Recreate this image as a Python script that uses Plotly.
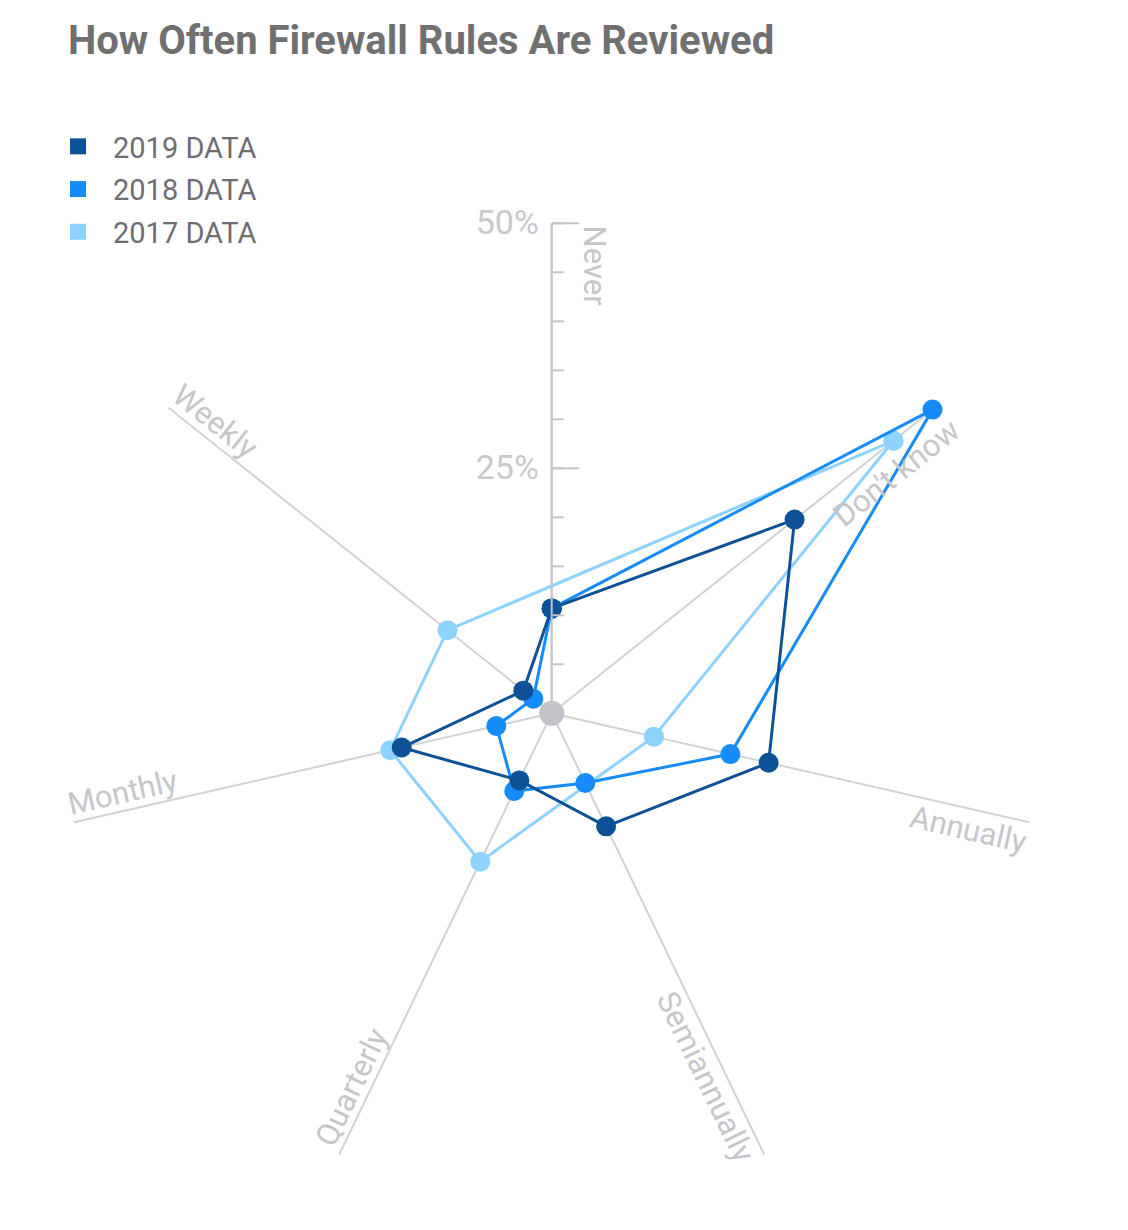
import math
import plotly.graph_objects as go

# categories, clockwise from the top
categories = ["Never", "Don't know", "Annually", "Semiannually", "Quarterly", "Monthly", "Weekly"]

# percent of respondents (None = category not in that year's survey)
data_2019 = [10.7, 31.7, 22.7, 12.8, 7.6, 15.7, 3.7]
data_2018 = [10.7, 49.7, 18.7, 7.9, 8.8, 5.8, 2.4]
data_2017 = [None, 44.6, 10.7, None, 16.8, 16.9, 13.6]

radial_ticks = [0, 5, 10, 15, 20, 25, 30, 35, 40, 45, 50]
radial_labels = ["", "", "", "", "", "25%", "", "", "", "", "50%"]

series = [
    ("2019 DATA", data_2019, "#0D5296"),
    ("2018 DATA", data_2018, "#168BFA"),
    ("2017 DATA", data_2017, "#8DD3FD"),
]

W, H = 1128, 1230
OFF = 8  # page margin the browser adds around the plot div
CX, CY, RPX = 551.7 - OFF, 713.3 - OFF, 490  # polar centre and radius in pixels
FONT = "Roboto"
GRID = "#d2d2d6"
LABEL_GREY = "#c6c6ca"

# (distance along spoke, offset above text baseline) in pixels, per category label
label_place = [(447, 43), (420, -27), (432, -21), (395, -19), (424, 18), (436, 18), (445, 18)]


def closed(cats, vals):
    pts = [(c, v) for c, v in zip(cats, vals) if v is not None]
    pts.append(pts[0])
    return [p[0] for p in pts], [p[1] for p in pts]


fig = go.Figure()

# lines, oldest year underneath
for name, vals, color in reversed(series):
    th, r = closed(categories, vals)
    fig.add_trace(go.Scatterpolar(
        r=r, theta=th, mode="lines+markers", name=name, showlegend=False,
        line=dict(color=color, width=3),
        marker=dict(color=color, size=20),
        subplot="polar"))

# legend swatches
for i, (name, vals, color) in enumerate(series):
    fig.add_trace(go.Scatterpolar(
        r=[None], theta=[None], mode="markers", name=name, legendgroup=f"g{i}",
        marker=dict(color=color, size=20, symbol="square"),
        subplot="polar"))

# grey hub
fig.add_trace(go.Scatterpolar(
    r=[0], theta=[0], mode="markers", showlegend=False,
    marker=dict(color="#c2c2c8", size=25), subplot="polar2"))

dom_x = [(CX - RPX) / W, (CX + RPX) / W]
dom_y = [1 - (CY + RPX) / H, 1 - (CY - RPX) / H]

fig.update_layout(
    width=W, height=H, autosize=False,
    margin=dict(l=0, r=0, t=0, b=0, pad=0),
    paper_bgcolor="white", plot_bgcolor="white",
    font=dict(family=FONT),
    title=dict(text="How Often Firewall Rules Are Reviewed",
               x=(68 - OFF) / W, xanchor="left", y=1 - 18 / H, yanchor="top",
               font=dict(family=FONT, size=40, color="#707070", weight="bold")),
    legend=dict(x=(43 - OFF) / W, xanchor="left", y=1 - (121 - OFF) / H, yanchor="top",
                font=dict(family=FONT, size=29, color="#6e6e72"), itemwidth=60,
                tracegroupgap=2, bgcolor="rgba(0,0,0,0)"),
    polar=dict(
        domain=dict(x=dom_x, y=dom_y),
        bgcolor="rgba(0,0,0,0)",
        angularaxis=dict(type="category", categoryorder="array", categoryarray=categories,
                         rotation=90, direction="clockwise",
                         showline=False, showticklabels=False, ticks="",
                         showgrid=True, gridcolor=GRID, gridwidth=1.5),
        radialaxis=dict(range=[0, 50], angle=90, side="counterclockwise", tickangle=90,
                        showgrid=False, showline=True, linecolor="#c4c4c8", linewidth=2,
                        tickmode="array", tickvals=radial_ticks, ticktext=radial_labels,
                        ticks="inside", ticklen=11, tickwidth=1.5, tickcolor="#c4c4c8",
                        tickfont=dict(family=FONT, size=34, color="#c8c8cc")),
    ),
    polar2=dict(
        domain=dict(x=dom_x, y=dom_y),
        bgcolor="rgba(0,0,0,0)",
        angularaxis=dict(visible=False, rotation=90, direction="clockwise"),
        radialaxis=dict(range=[0, 50], angle=90, side="counterclockwise",
                        showgrid=False, showline=False, showticklabels=False,
                        tickmode="array", tickvals=[25, 50],
                        ticks="inside", ticklen=27, tickwidth=1.5, tickcolor="#c4c4c8"),
    ),
)

# category labels laid along their spokes
n = len(categories)
for i, cat in enumerate(categories):
    a = math.radians(90 - i * 360 / n)
    dx, dy = math.cos(a), -math.sin(a)
    rx, ry = (dx, dy) if dx > 0.01 else (-dx, -dy)
    ux, uy = ry, -rx
    along, up = label_place[i]
    px = CX + along * dx + up * ux
    py = CY + along * dy + up * uy
    fig.add_annotation(text=cat, x=px / W, y=1 - py / H, xref="paper", yref="paper",
                       xanchor="center", yanchor="middle", showarrow=False,
                       textangle=math.degrees(math.atan2(ry, rx)),
                       font=dict(family=FONT, size=31, color=LABEL_GREY))

fig.write_html("out.html")
